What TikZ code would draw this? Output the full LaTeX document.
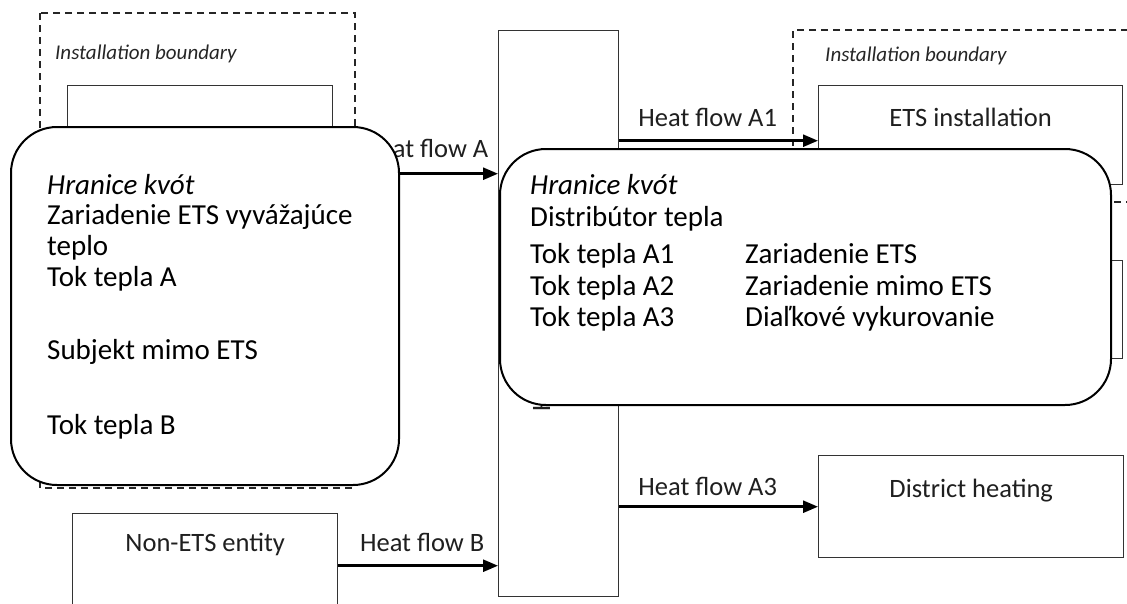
\documentclass[tikz,border=0pt]{standalone}
\usepackage{fontspec}
\setmainfont{Carlito}
\usepackage{tikz}
\usetikzlibrary{arrows.meta}
\usetikzlibrary{positioning}

\tikzset{
  box/.style={draw=black!80, line width=1.4pt, rectangle, inner sep=0pt, anchor=north west},
  bound/.style={draw=black!85, dash pattern=on 7pt off 5pt, line width=1.4pt},
  flow/.style={-{Triangle[length=15pt,width=12pt]}, line width=2.6pt},
  lbl/.style={inner sep=0pt, anchor=base, font=\fontsize{26.5}{30}\selectfont, text=black!88},
  ibound/.style={inner sep=0pt, anchor=base west, font=\fontsize{21}{24}\selectfont\itshape, text=black!85},
  callout/.style={draw, fill=white, line width=2pt, rounded corners=46pt, inner sep=0pt, anchor=north west},
  ctext/.style={inner sep=0pt, anchor=base west, font=\fontsize{29}{32}\selectfont},
}

\begin{document}
\begin{tikzpicture}[x=1pt,y=-1pt]
        \clip (0,0) rectangle (1127,603);
        \fill[white] (0,0) rectangle (1127,603);

        % Hranice zariadení
        \draw[bound] (40,13) rectangle (355,488);
        \draw[bound] (1140,30) -- (793,30) -- (793,202) -- (1140,202);
        \node[ibound] (ibL) at (55,59) {Installation boundary};
        \node[ibound] (ibR) at (825,61) {Installation boundary};

        % Boxy
        \node[box, minimum width=265pt, minimum height=176pt] (exp) at (67,85) {};
        \node[box, minimum width=120pt, minimum height=566pt] (dist) at (498,30) {};
        \node[box, minimum width=304pt, minimum height=99pt] (ets) at (818,85) {};
        \node[box, minimum width=304pt, minimum height=98pt] (nonins) at (818,260) {};
        \node[box, minimum width=305pt, minimum height=102pt] (dh) at (818,455) {};
        \node[box, minimum width=265pt, minimum height=104pt] (nonets) at (72,513) {};

        \node[lbl] (etsT) at ([yshift=-41pt]ets.north) {ETS installation};
        \node[lbl] (dhT) at ([yshift=-42pt]dh.north) {District heating};
        \node[lbl] (nonetsT) at ([yshift=-38pt]nonets.north) {Non-ETS entity};
        \node[lbl, rotate=90, anchor=base west] (distT) at (550,412) {Heat distributor};

        % Toky tepla
        \coordinate (a1) at ([yshift=-5.5pt]ets.west);
        \draw[flow] (exp.east) -- node[lbl, yshift=16pt, xshift=10pt] (lA) {Heat flow A} (dist.west |- exp.east);
        \draw[flow] (dist.east |- a1) -- node[lbl, yshift=14pt, xshift=-11pt] (lA1) {Heat flow A1} (a1);
        \draw[flow] (dist.east |- dh.west) -- node[lbl, yshift=11pt, xshift=-11pt] (lA3) {Heat flow A3} (dh.west);
        \draw[flow] (nonets.east) -- node[lbl, yshift=14pt, xshift=4pt] (lB) {Heat flow B} (dist.west |- nonets.east);

        % Bubliny s prekladom
        \node[callout, minimum width=388pt, minimum height=358pt] (capL) at (10,126) {};
        \node[callout, minimum width=611pt, minimum height=256pt] (capR) at (499,148) {};

        \foreach \n/\y/\t in {1/194/{\textit{Hranice kvót}}, 2/224/{Zariadenie ETS vyvážajúce},
            3/255/teplo, 4/286/{Tok tepla A}, 5/359/{Subjekt mimo ETS}, 6/434/{Tok tepla B}}
            \node[ctext] (cl\n) at (47,\y) {\t};

        \foreach \n/\y/\t in {1/194/{\textit{Hranice kvót}}, 2/226/{Distribútor tepla},
            3/263/{Tok tepla A1}, 4/295/{Tok tepla A2}, 5/326/{Tok tepla A3}}
            \node[ctext] (cr\n) at (530,\y) {\t};
        \foreach \n/\y/\t in {3/263/{Zariadenie ETS}, 4/295/{Zariadenie mimo ETS}, 5/326/{Diaľkové vykurovanie}}
            \node[ctext] (cs\n) at (745,\y) {\t};
\end{tikzpicture}
\end{document}
